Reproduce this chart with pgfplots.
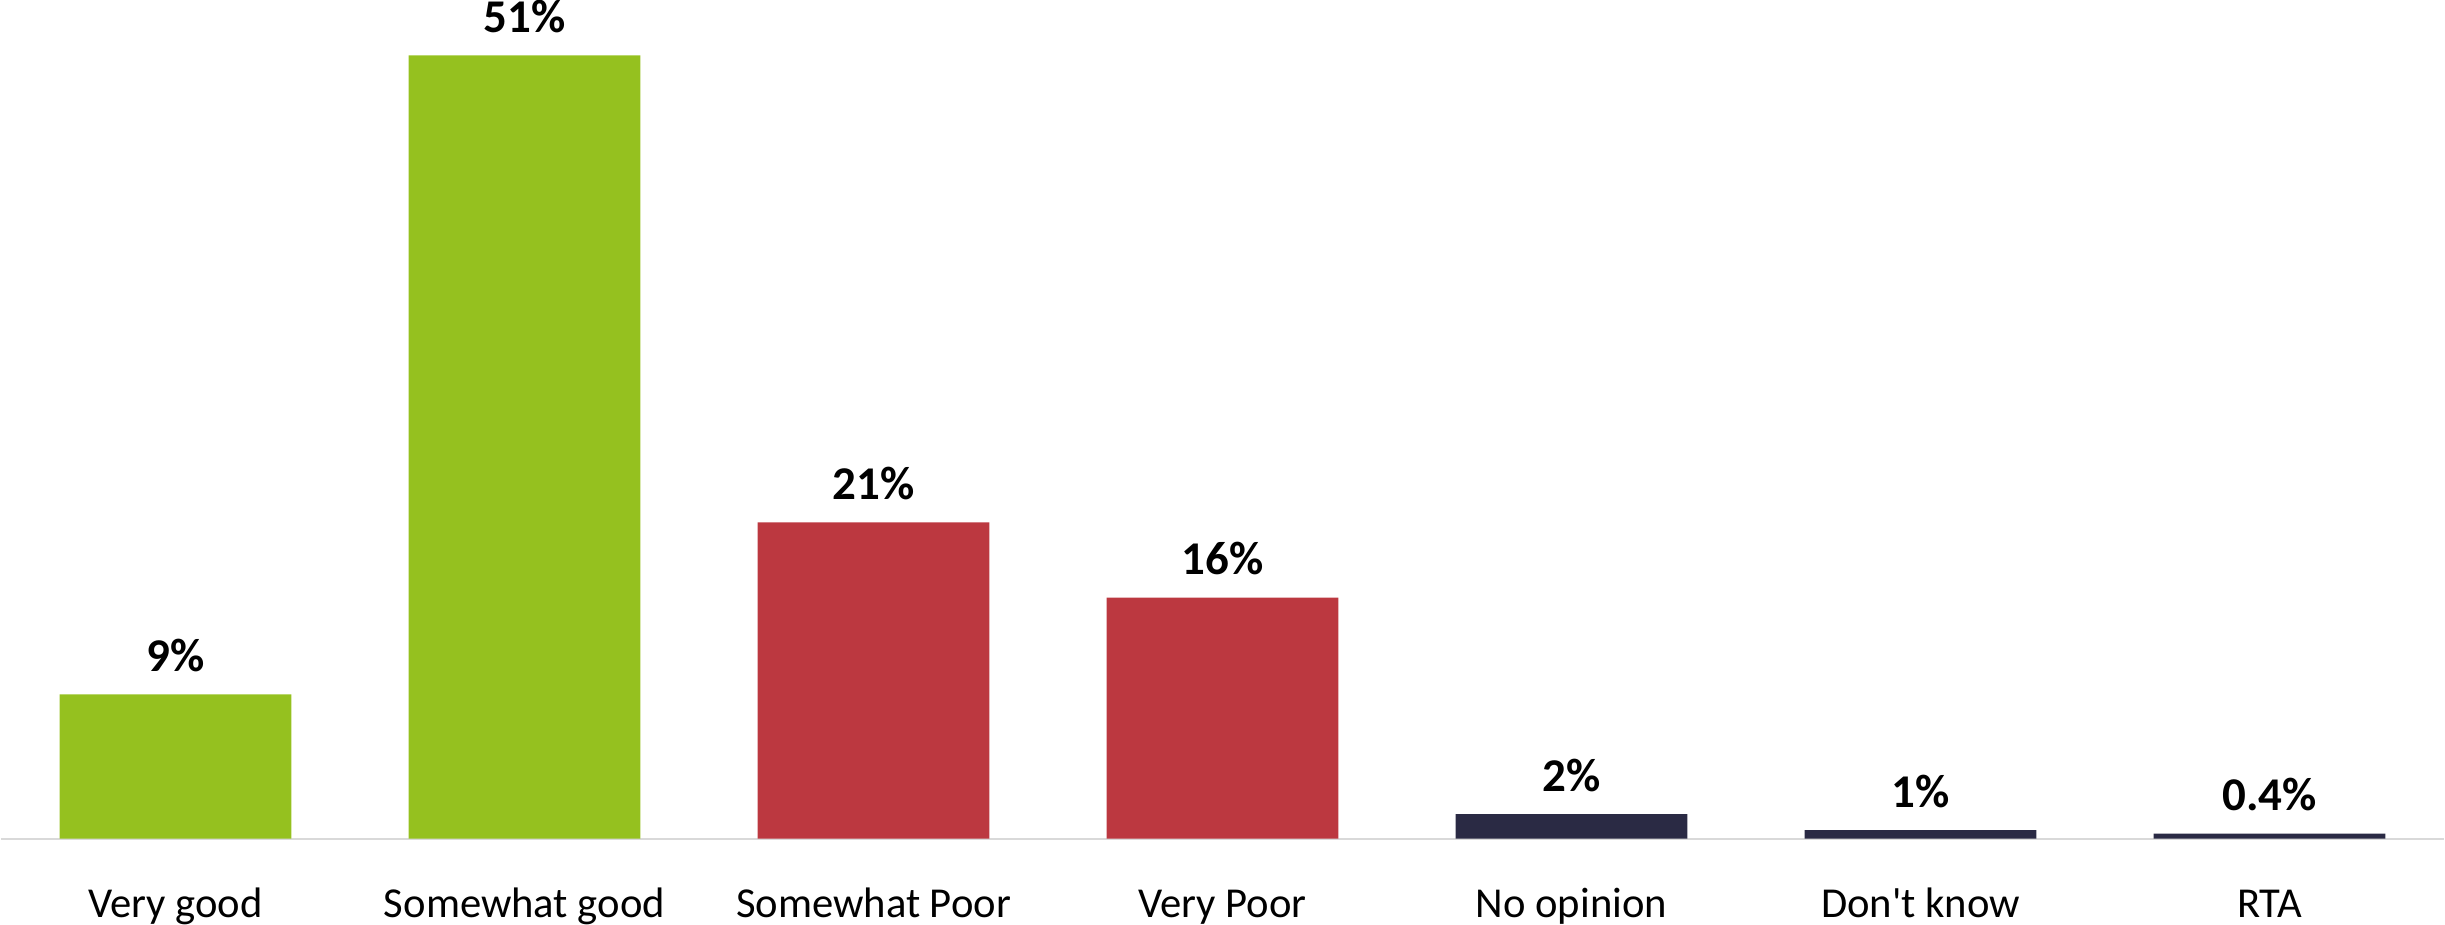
\documentclass[border=0pt]{standalone}
\usepackage{fontspec}
\setmainfont{Carlito}
\usepackage{pgfplots}
\pgfplotsset{compat=1.18}
\definecolor{cgreen}{HTML}{95C11F}
\definecolor{cred}{HTML}{BC3840}
\definecolor{cnavy}{HTML}{2A2A44}
\definecolor{cgrid}{HTML}{D9D9D9}
\begin{document}
\begin{tikzpicture}
\begin{axis}[
  scale only axis, width=733.5pt, height=252.6pt,
  xmin=-0.5, xmax=6.5, ymin=0, ymax=54.78,
  axis x line*=bottom, axis y line=none,
  x axis line style={draw=cgrid, line width=0.6pt, -},
  xtick={0,...,6},
  xticklabels={Very good, Somewhat good, Somewhat Poor, Very Poor, No opinion, Don\textquotesingle t know, RTA},
  major tick length=0pt,
  xticklabel style={font=\fontsize{12.8}{15}\selectfont, anchor=base, yshift=-23.6pt, inner sep=0pt},
  ytick=\empty,
  ybar, bar width=69.6pt, bar shift=0pt,
  nodes near coords, point meta=explicit symbolic,
  every node near coord/.append style={font=\bfseries\fontsize{14.1}{16}\selectfont, anchor=base, yshift=6.9pt, inner sep=0pt, text=black},
  clip=false,
]
\addplot[fill=cgreen, draw=none] coordinates {(0,9.4) [9\%] (1,51) [51\%]};
\addplot[fill=cred, draw=none] coordinates {(2,20.6) [21\%] (3,15.7) [16\%]};
\addplot[fill=cnavy, draw=none] coordinates {(4,1.6) [2\%] (5,0.55) [1\%] (6,0.32) [0.4\%]};
\end{axis}
\end{tikzpicture}
\end{document}
